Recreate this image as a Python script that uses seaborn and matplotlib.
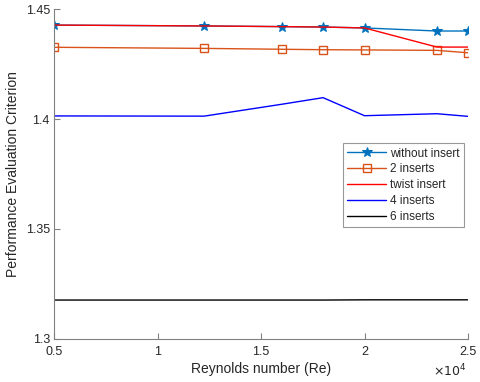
import numpy as np
import pandas as pd
import matplotlib
matplotlib.use("Agg")
import matplotlib.pyplot as plt
import seaborn as sns

sns.set_style("white")
plt.rcParams['font.family'] = ['Liberation Sans', 'DejaVu Sans']

reynolds = [5000, 12250, 16000, 18000, 20000, 23500, 25000]
without_insert = [1.4427, 1.4423, 1.4420, 1.4418, 1.4414, 1.4400, 1.4400]
two_inserts = [1.4326, 1.4321, 1.4317, 1.4315, 1.4314, 1.4312, 1.4301]
twist_insert = [1.4427, 1.4423, 1.4420, 1.4418, 1.4414, 1.4327, 1.4327]
four_inserts = [1.4014, 1.4013, 1.4067, 1.4097, 1.4015, 1.4024, 1.4012]
six_inserts = [1.3177, 1.3177, 1.3177, 1.3177, 1.3178, 1.3178, 1.3178]

series_names = ["without insert", "2 inserts", "twist insert", "4 inserts", "6 inserts"]
series_values = [without_insert, two_inserts, twist_insert, four_inserts, six_inserts]
colors = ["#0072BD", "#D95319", "#FF0000", "#0000FF", "#000000"]

x_ticks = [5000, 10000, 15000, 20000, 25000]
x_tick_labels = ["0.5", "1", "1.5", "2", "2.5"]
y_ticks = [1.3, 1.35, 1.4, 1.45]
y_tick_labels = ["1.3", "1.35", "1.4", "1.45"]

df = pd.DataFrame({
    "Re": np.tile(reynolds, len(series_names)),
    "PEC": np.concatenate(series_values),
    "series": np.repeat(series_names, len(reynolds)),
})

fig = plt.figure(figsize=(4.8, 3.82), dpi=100)
ax = fig.add_axes([0.1125, 0.1126, 0.8625, 0.8638])

styles = {
    "without insert": dict(marker="*", markersize=7.5, markerfacecolor="#0072BD", markeredgecolor="#0072BD"),
    "2 inserts": dict(marker="s", markersize=5.5, markerfacecolor="none", markeredgecolor="#D95319", markeredgewidth=1.0),
    "twist insert": dict(),
    "4 inserts": dict(),
    "6 inserts": dict(),
}

for name, col in zip(series_names, colors):
    sub = df[df["series"] == name]
    sns.lineplot(data=sub, x="Re", y="PEC", ax=ax, color=col, label=name,
                 linewidth=1.0, **styles[name])

ax.set_xlim(5000, 25000)
ax.set_ylim(1.3, 1.45)
ax.set_xticks(x_ticks)
ax.set_xticklabels(x_tick_labels)
ax.set_yticks(y_ticks)
ax.set_yticklabels(y_tick_labels)

for s in ["top", "right"]:
    ax.spines[s].set_visible(False)
for s in ["left", "bottom"]:
    ax.spines[s].set_color("#808080")
    ax.spines[s].set_linewidth(0.8)

ax.tick_params(axis="both", which="major", bottom=True, left=True, direction="in",
               length=4, width=0.8, color="#808080",
               labelsize=9, labelcolor="#262626", pad=3)
ax.tick_params(axis="x", pad=5)

ax.text(0.957, -0.097, r"$\times10^{4}$", transform=ax.transAxes, fontsize=9,
        color="#262626", ha="center", va="center")

ax.set_xlabel("Reynolds number (Re)", fontsize=10, color="#262626", labelpad=3)
ax.set_ylabel("Performance Evaluation Criterion", fontsize=10, color="#262626", labelpad=4)

leg = ax.legend(loc="upper left", bbox_to_anchor=(0.714, 0.626), bbox_transform=fig.transFigure,
                borderaxespad=0, fontsize=8.5, frameon=True, fancybox=False, borderpad=0.4,
                labelspacing=0.32, handlelength=3.3, handletextpad=0.3)
leg.get_frame().set_edgecolor("#808080")
leg.get_frame().set_linewidth(0.8)

fig.savefig("out.png", dpi=100)
